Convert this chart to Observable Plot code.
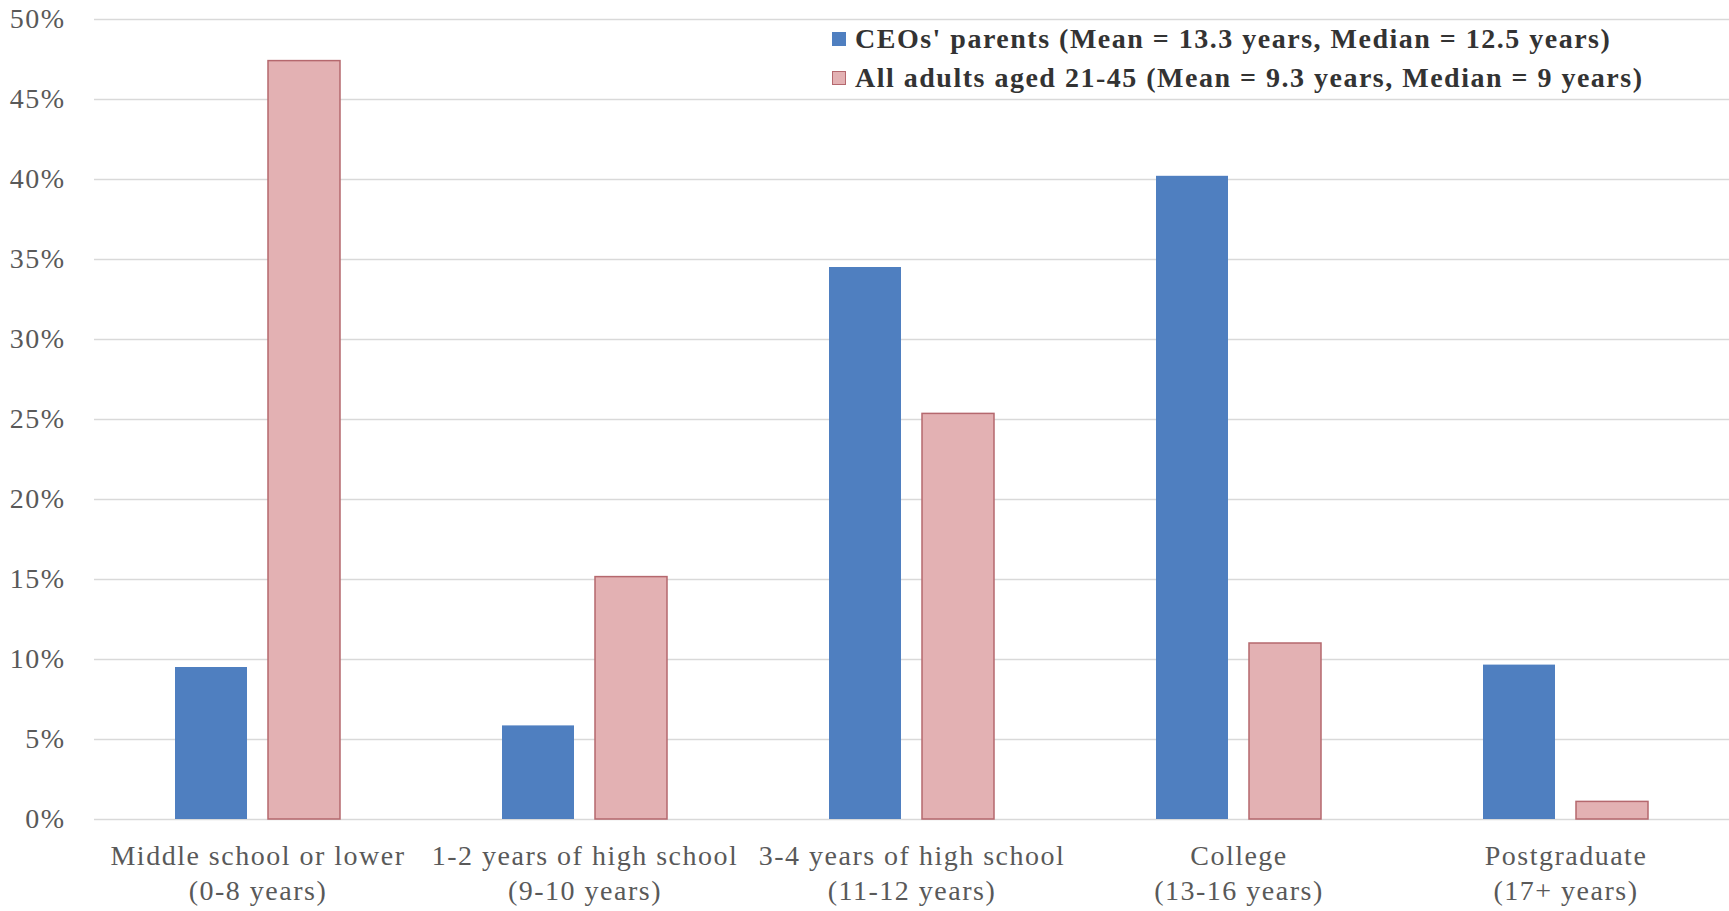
<!DOCTYPE html>
<html><head><meta charset="utf-8">
<script src="https://cdn.jsdelivr.net/npm/d3@7"></script>
<script src="https://cdn.jsdelivr.net/npm/@observablehq/plot@0.6"></script>
<style>
body{margin:0;background:#fff;}
#wrap{position:relative;width:1729px;height:911px;overflow:hidden;}
#chart svg, #chart svg text{font-family:"Liberation Serif","Times New Roman",serif !important;}
#chart svg text{letter-spacing:1.5px;}
#legend{position:absolute;left:832px;top:19px;font-family:"Liberation Serif",serif;font-weight:bold;font-size:28px;letter-spacing:1.5px;color:#333;line-height:39px;}
#legend .item{display:flex;align-items:center;white-space:nowrap;}
#legend .sw{width:14px;height:14px;margin-right:9px;box-sizing:border-box;}
</style></head>
<body><div id="wrap"><div id="chart"></div><div id="legend"></div></div>
<script>
const categories = ["Middle school or lower\n(0-8 years)", "1-2 years of high school\n(9-10 years)", "3-4 years of high school\n(11-12 years)", "College\n(13-16 years)", "Postgraduate\n(17+ years)"];
const series = ["CEOs' parents", "All adults aged 21-45"];
const legendLabels = ["CEOs' parents (Mean = 13.3 years, Median = 12.5 years)", "All adults aged 21-45 (Mean = 9.3 years, Median = 9 years)"];
const ceoParents = [9.5, 5.85, 34.5, 40.2, 9.65];
const allAdults = [47.4, 15.15, 25.35, 11.0, 1.1];
const yTicks = [0, 5, 10, 15, 20, 25, 30, 35, 40, 45, 50];

const blue = "#4f7fc0", pink = "#e3b1b3", pinkStroke = "#b5686e";

const ceoData = categories.map((c, i) => ({cat: c, s: series[0], v: ceoParents[i]}));
const adultData = categories.map((c, i) => ({cat: c, s: series[1], v: allAdults[i]}));

const chart = Plot.plot({
  width: 1729, height: 911,
  marginLeft: 93, marginRight: 0, marginTop: 19, marginBottom: 92,
  style: {fontSize: "28px", color: "#595959", background: "#fff"},
  fx: {domain: categories, padding: 0, label: null, axis: null},
  x: {domain: series, paddingInner: 0.223, paddingOuter: 0.851, axis: null},
  y: {domain: [0, 50], label: null, axis: null},
  marks: [
    Plot.gridY(yTicks, {stroke: "#d9d9d9", strokeOpacity: 1, strokeWidth: 1.5}),
    Plot.axisY(yTicks, {tickSize: 0, tickPadding: 29, tickFormat: d => d + "%", label: null, fill: "#595959"}),
    Plot.axisFx({anchor: "bottom", tickSize: 0, tickPadding: 20, lineHeight: 1.27, label: null, fill: "#595959"}),
    Plot.barY(ceoData, {fx: "cat", x: "s", y: "v", fill: blue}),
    Plot.barY(adultData, {fx: "cat", x: "s", y: "v", fill: pink, stroke: pinkStroke, strokeWidth: 1.5})
  ]
});
document.getElementById("chart").appendChild(chart);

const leg = document.getElementById("legend");
const swatches = [{fill: blue, stroke: "none"}, {fill: pink, stroke: pinkStroke}];
legendLabels.forEach((t, i) => {
  const it = document.createElement("div"); it.className = "item";
  const sw = document.createElement("span"); sw.className = "sw";
  sw.style.background = swatches[i].fill;
  if (swatches[i].stroke !== "none") sw.style.border = "1.5px solid " + swatches[i].stroke;
  const tx = document.createElement("span"); tx.textContent = t;
  it.appendChild(sw); it.appendChild(tx); leg.appendChild(it);
});
</script>
</body></html>
